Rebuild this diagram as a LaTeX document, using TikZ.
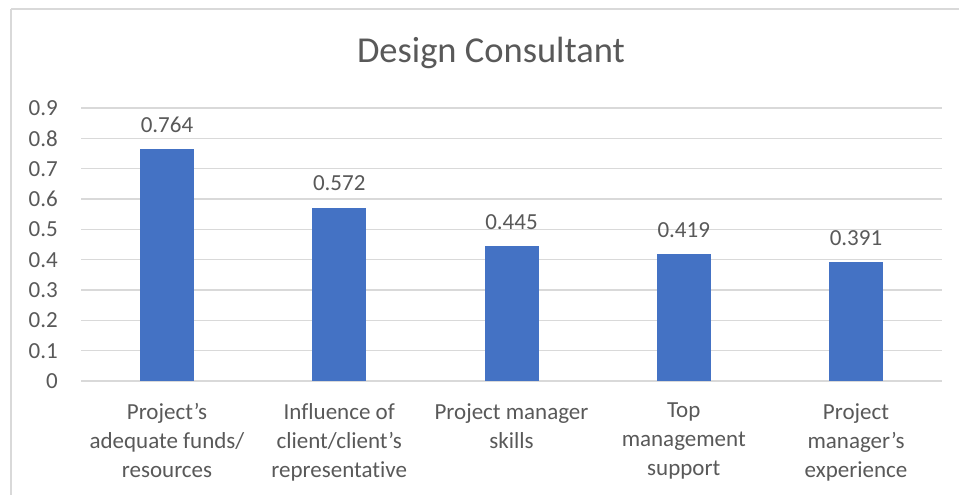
\documentclass[tikz,border=0pt]{standalone}
\usepackage{fontspec}
\setmainfont{Carlito}[Ligatures=NoCommon]
\definecolor{txt}{HTML}{595959}
\definecolor{grid}{HTML}{D9D9D9}
\definecolor{bar}{HTML}{4472C4}
\begin{document}
\begin{tikzpicture}[x=1pt,y=-1pt,
  gridline/.style={draw=grid,line width=1.3pt},
  barbox/.style={fill=bar,draw=none},
  ticklab/.style={text=txt,font=\fontsize{23}{27}\selectfont,anchor=east,inner sep=0pt},
  vallab/.style={text=txt,font=\fontsize{23}{27}\selectfont,inner sep=0pt},
  catlab/.style={text=txt,font=\fontsize{23}{29}\selectfont,align=center,anchor=north,inner sep=0pt},
  titlelab/.style={text=txt,font=\fontsize{36.5}{40}\selectfont,inner sep=0pt}]
\useasboundingbox (0,0) rectangle (959,495);
\fill[white] (0,0) rectangle (959,495);
\draw[draw=grid,line width=1.5pt] (11,9) -- (11,500);
\draw[draw=grid,line width=1.5pt] (11,9) -- (965,9);
\node[titlelab] (title) at (491,53) {Design Consultant};
% grid and ticks
\foreach \i/\t in {0/0,1/0.1,2/0.2,3/0.3,4/0.4,5/0.5,6/0.6,7/0.7,8/0.8,9/0.9}{
  \coordinate (gl\i) at (81,{381-30.33*\i});
  \coordinate (gr\i) at (942,{381-30.33*\i});
  \draw[gridline] (gl\i) -- (gr\i);
  \node[ticklab] (tick\i) at (58,{381-30.33*\i}) {\t};
}
% bars
\foreach \k/\v/\lab in {1/0.764/{Project’s\\adequate funds/\\resources},
                        2/0.572/{Influence of\\client/client’s\\representative},
                        3/0.445/{Project manager\\skills},
                        4/0.419/{Top\\management\\support},
                        5/0.391/{Project\\manager’s\\experience}}{
  \pgfmathsetmacro{\cx}{167+172.25*(\k-1)}
  \pgfmathsetmacro{\top}{381-303.3*\v}
  \fill[barbox] (\cx-27,381) rectangle (\cx+27,\top);
  \node[vallab] (val\k) at (\cx,\top-24) {\v};
  \node[catlab] (cat\k) at (\cx,403) {\lab};
}
\end{tikzpicture}
\end{document}
